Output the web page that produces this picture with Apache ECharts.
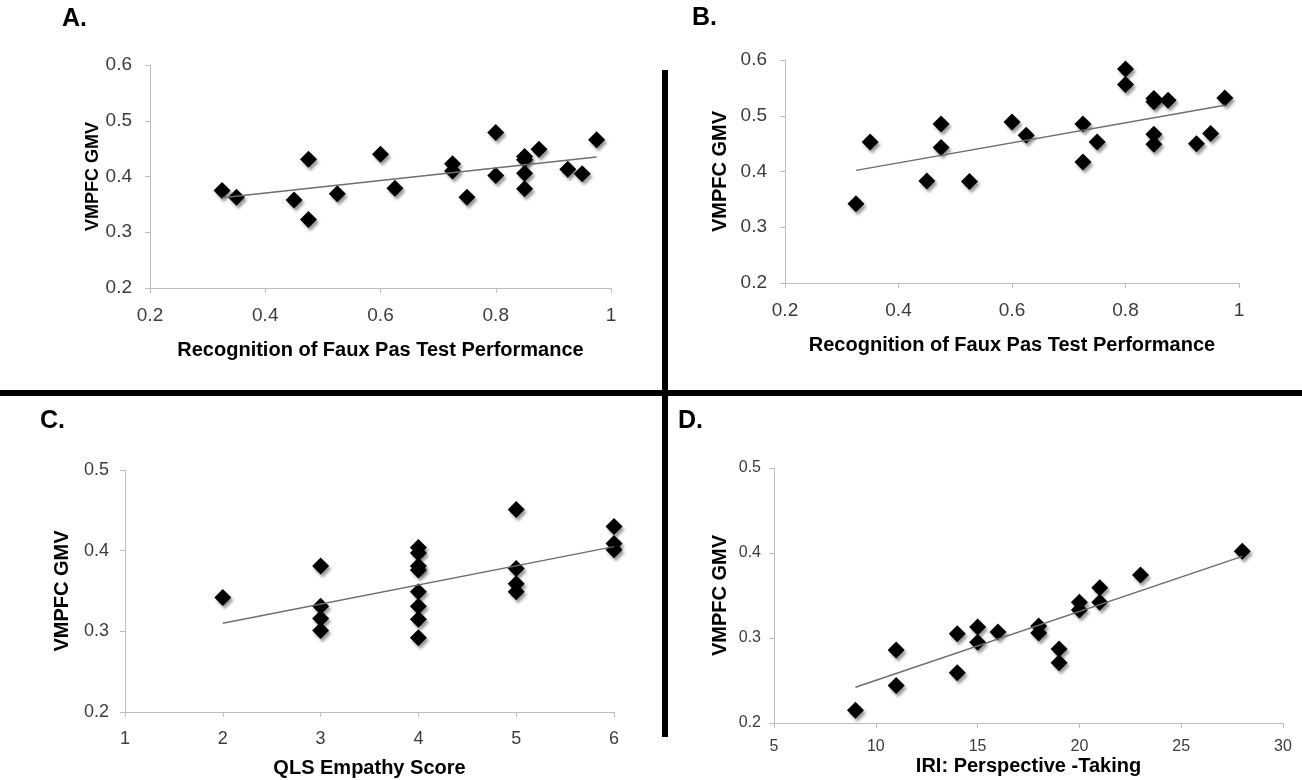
<!DOCTYPE html>
<html>
<head>
<meta charset="utf-8">
<script src="https://cdn.jsdelivr.net/npm/echarts@6/dist/echarts.min.js"></script>
<style>
  html, body { margin: 0; padding: 0; background: #fff; }
  #chart { width: 1302px; height: 780px; }
</style>
</head>
<body>
<div id="chart"></div>
<script>
// Panel A / B: faux pas recognition vs VMPFC GMV (same x values in both)
const fauxPasX = [0.325, 0.35, 0.45, 0.475, 0.475, 0.525, 0.6, 0.625, 0.725, 0.725, 0.75,
    0.8, 0.8, 0.85, 0.85, 0.85, 0.85, 0.875, 0.925, 0.95, 0.975];
const panelAY = [0.375, 0.363, 0.358, 0.431, 0.323, 0.369, 0.440, 0.379, 0.423, 0.410, 0.363,
    0.479, 0.402, 0.436, 0.430, 0.406, 0.378, 0.449, 0.413, 0.405, 0.466];
const panelBY = [0.342, 0.453, 0.383, 0.485, 0.443, 0.382, 0.489, 0.465, 0.485, 0.417, 0.453,
    0.584, 0.556, 0.531, 0.525, 0.467, 0.449, 0.528, 0.450, 0.468, 0.532];

// Panel C: QLS empathy score
const qlsX = [2, 3, 3, 3, 3, 4, 4, 4, 4, 4, 4, 4, 4, 5, 5, 5, 5, 6, 6, 6];
const panelCY = [0.342, 0.381, 0.331, 0.316, 0.301, 0.404, 0.397, 0.381, 0.376, 0.349, 0.331,
    0.315, 0.292, 0.451, 0.378, 0.359, 0.349, 0.430, 0.409, 0.401];

// Panel D: IRI perspective taking
const iriX = [9, 11, 11, 14, 14, 15, 15, 16, 18, 18, 19, 19, 20, 20, 21, 21, 23, 28];
const panelDY = [0.215, 0.286, 0.244, 0.305, 0.259, 0.313, 0.295, 0.307, 0.314, 0.306, 0.287,
    0.271, 0.342, 0.333, 0.359, 0.342, 0.374, 0.402];

// linear trend lines, end points
const trendA = [[0.325, 0.362], [0.975, 0.435]];
const trendB = [[0.325, 0.402], [0.975, 0.519]];
const trendC = [[2, 0.310], [6, 0.405]];
const trendD = [[9, 0.242], [28, 0.396]];

const panelLetters = ['A.', 'B.', 'C.', 'D.'];
const xTitles = [
    'Recognition of Faux Pas Test Performance',
    'Recognition of Faux Pas Test Performance',
    'QLS Empathy Score',
    'IRI: Perspective -Taking',
];
const yTitle = 'VMPFC GMV';

const FONT = '"Liberation Sans", Arial, sans-serif';

const panels = [
    { xs: fauxPasX, ys: panelAY, trend: trendA,
      grid: { left: 150, top: 65, width: 461, height: 223 },
      x: [0.2, 1, 0.2], y: [0.2, 0.6, 0.1], tickFont: 19, xGap: 52, yGap: 47, xMargin: 18, yMargin: 18 },
    { xs: fauxPasX, ys: panelBY, trend: trendB,
      grid: { left: 785, top: 60, width: 454, height: 223 },
      x: [0.2, 1, 0.2], y: [0.2, 0.6, 0.1], tickFont: 19, xGap: 52, yGap: 55, xMargin: 18, yMargin: 18 },
    { xs: qlsX, ys: panelCY, trend: trendC,
      grid: { left: 125, top: 470, width: 489, height: 242 },
      x: [1, 6, 1], y: [0.2, 0.5, 0.1], tickFont: 18, xGap: 46, yGap: 53, xMargin: 18, yMargin: 16 },
    { xs: iriX, ys: panelDY, trend: trendD,
      grid: { left: 774, top: 468, width: 509, height: 255 },
      x: [5, 30, 5], y: [0.2, 0.5, 0.1], tickFont: 16, xGap: 33, yGap: 44, xMargin: 16, yMargin: 13 },
];

function axisBase(range, fontSize, margin) {
    return {
        type: 'value',
        min: range[0],
        max: range[1],
        interval: range[2],
        axisLine: { show: true, lineStyle: { color: '#bdbdbd', width: 1 } },
        axisTick: { show: true, length: 5, lineStyle: { color: '#bdbdbd' } },
        splitLine: { show: false },
        axisLabel: { color: '#3c3c3c', fontSize: fontSize, fontFamily: FONT, margin: margin },
    };
}

function buildOption() {
    const grid = [], xAxis = [], yAxis = [], series = [];

    panels.forEach((p, i) => {
        grid.push(p.grid);

        xAxis.push(Object.assign(axisBase(p.x, p.tickFont, p.xMargin), {
            gridIndex: i,
            name: xTitles[i],
            nameLocation: 'middle',
            nameGap: p.xGap,
            nameTextStyle: { color: '#000', fontWeight: 'bold', fontSize: 20, fontFamily: FONT },
        }));

        yAxis.push(Object.assign(axisBase(p.y, p.tickFont, p.yMargin), {
            gridIndex: i,
            name: yTitle,
            nameLocation: 'middle',
            nameGap: p.yGap,
            nameTextStyle: { color: '#000', fontWeight: 'bold', fontSize: i === 0 ? 18 : 20, fontFamily: FONT },
        }));

        series.push({
            type: 'scatter',
            xAxisIndex: i,
            yAxisIndex: i,
            data: p.xs.map((x, k) => [x, p.ys[k]]),
            symbol: 'diamond',
            symbolSize: 17,
            itemStyle: {
                color: '#000',
                opacity: 1,
                shadowColor: 'rgba(0,0,0,0.4)',
                shadowBlur: 3,
                shadowOffsetX: 2,
                shadowOffsetY: 3,
            },
            z: 2,
        });

        series.push({
            type: 'line',
            xAxisIndex: i,
            yAxisIndex: i,
            data: p.trend,
            symbol: 'none',
            silent: true,
            lineStyle: { color: '#6e6e6e', width: 1.5 },
            z: 3,
        });
    });

    // panel letters and the cross that splits the figure
    const letterPos = [[62, 20], [692, 19], [40, 422], [678, 422]];
    const graphic = panelLetters.map((t, i) => ({
        type: 'text',
        left: letterPos[i][0],
        top: letterPos[i][1] - 13,
        style: { text: t, fill: '#000', font: 'bold 25px ' + FONT },
    }));
    graphic.push({
        type: 'line',
        shape: { x1: 0, y1: 393, x2: 1302, y2: 393 },
        style: { stroke: '#000', lineWidth: 6 },
    });
    graphic.push({
        type: 'line',
        shape: { x1: 665, y1: 70, x2: 665, y2: 737 },
        style: { stroke: '#000', lineWidth: 6 },
    });

    return { animation: false, grid, xAxis, yAxis, series, graphic };
}

const chart = echarts.init(document.getElementById('chart'), null, { renderer: 'canvas' });
chart.setOption(buildOption());
window.addEventListener('resize', () => chart.resize());
</script>
</body>
</html>
